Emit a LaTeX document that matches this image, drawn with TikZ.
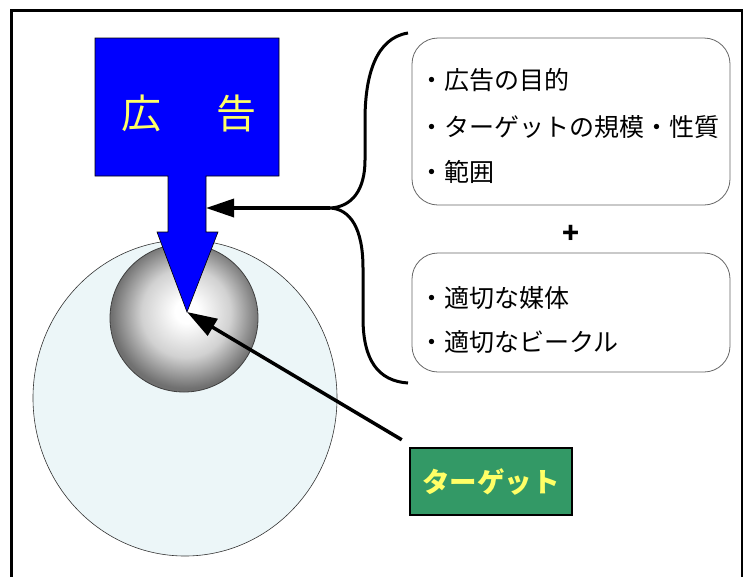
\documentclass[tikz,border=0pt]{standalone}
\usepackage{fontspec}
\newfontfamily\cjk{Noto Sans CJK JP}
\usetikzlibrary{arrows.meta}
\definecolor{adblue}{RGB}{0,0,255}
\definecolor{adyellow}{RGB}{255,255,102}
\definecolor{tgreen}{RGB}{51,153,102}
\definecolor{paleblue}{RGB}{236,246,248}
\pgfdeclareradialshading{sphereshade}{\pgfpoint{1bp}{2.5bp}}{color(0bp)=(white); color(4bp)=(white); color(15bp)=(black!18); color(25bp)=(black!56); color(50bp)=(black!56)}
\tikzset{
  txt/.style={font=\cjk\fontsize{25}{28}\selectfont, anchor=west, inner sep=0pt},
  roundbox/.style={draw=black!60, line width=0.8pt, rounded corners=26pt, minimum width=318pt, inner sep=0pt},
  bigarrow/.style={line width=3.5pt, -{Triangle[length=30pt,width=19pt]}},
}
\begin{document}
\begin{tikzpicture}[x=1pt,y=-1pt]
\useasboundingbox (0,0) rectangle (743,576);
% frame
\draw[line width=2.5pt] (11.3,10.5) rectangle (742.3,620);
% large circle
\draw[fill=paleblue, draw=black!80, line width=0.6pt] (185,398) ellipse (152 and 158);
% sphere
\coordinate (sc) at (184,318);
\shade[shading=sphereshade] (sc) circle (74);
\draw[black!75, line width=0.8pt] (sc) circle (74);
% blue arrow
\coordinate (tip) at (187,312);
\coordinate (shaftR) at (206,208);
\draw[fill=adblue, draw=black, line width=0.6pt]
  (95,38) -- (279,38) -- (279,176) -- (206,176) -- (206,232) -- (218,232) -- (tip)
  -- (157,232) -- (168,232) -- (168,176) -- (95,176) -- cycle;
\node[font=\cjk\fontsize{40}{44}\selectfont, text=adyellow, inner sep=0pt] (ad) at (188.5,113) {広\hspace{55pt}告};
% target box
\node[draw=black, line width=2.5pt, fill=tgreen, minimum width=162pt, minimum height=67pt, inner sep=0pt,
      font=\cjk\bfseries\fontsize{27.5}{30}\selectfont, text=adyellow] (target) at (491,481.5) {ターゲット};
\draw[bigarrow] ([xshift=-7pt,yshift=7pt]target.north west) -- (tip);
% brace
\coordinate (btop) at (408,33);
\coordinate (btip) at (330,208);
\coordinate (bbot) at (408,383);
\draw[line width=3pt]
  (btop) .. controls (376,38) and (365,75) .. (365,120) -- (365,160)
  .. controls (365,190) and (352,207) .. (btip)
  .. controls (350,209) and (363,228) .. (363,268) -- (363,318)
  .. controls (363,360) and (378,381) .. (bbot);
\draw[bigarrow, -{Triangle[length=28pt,width=18pt]}] (btip) -- (shaftR);
% text boxes
\node[roundbox, minimum height=167pt] (box1) at (571,121.5) {};
\node[txt] (t1) at (419,80) {・広告の目的};
\node[txt] (t2) at (419,127) {・ターゲットの規模・性質};
\node[txt] (t3) at (419,172) {・範囲};
\node[font=\cjk\bfseries\fontsize{28}{30}\selectfont, inner sep=0pt] (plus) at (571,234) {+};
\node[roundbox, minimum height=119pt] (box2) at (571,312.5) {};
\node[txt] (t4) at (419,298) {・適切な媒体};
\node[txt] (t5) at (419,342) {・適切なビークル};
\end{tikzpicture}
\end{document}
